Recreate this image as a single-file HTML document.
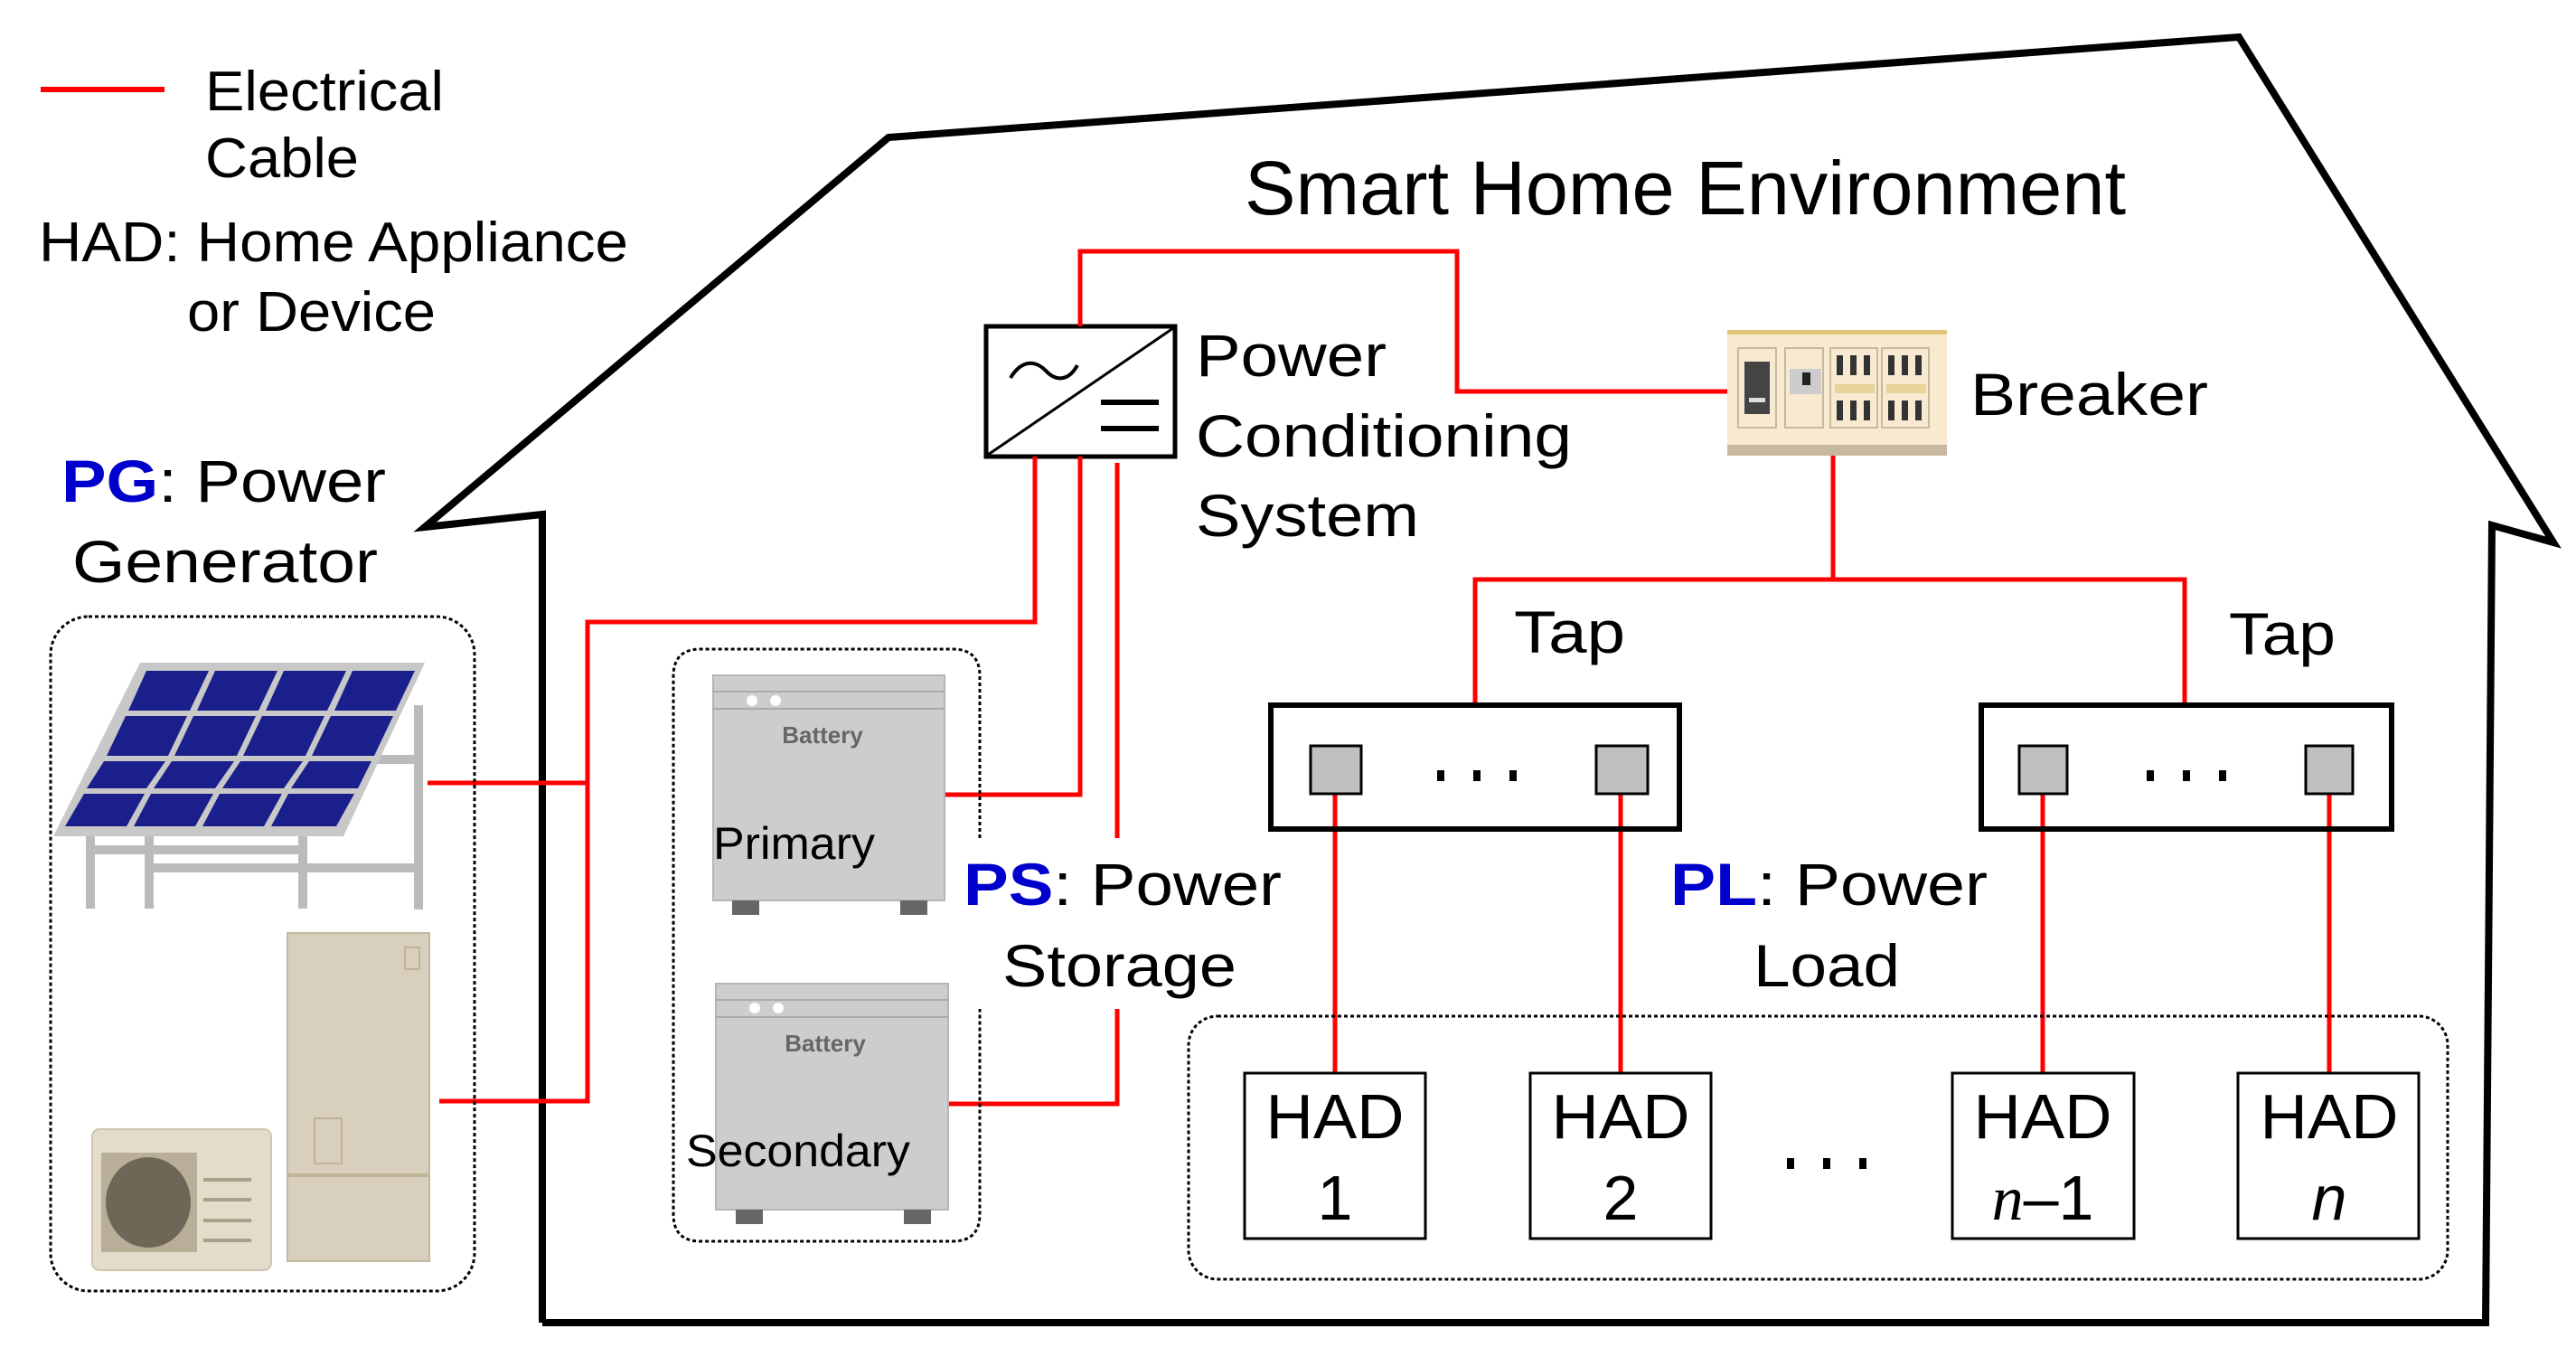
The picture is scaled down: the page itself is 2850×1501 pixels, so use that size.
<!DOCTYPE html>
<html><head><meta charset="utf-8"><style>
html,body{margin:0;padding:0;background:#fff}
svg{display:block}
text{font-family:"Liberation Sans",Arial,sans-serif;fill:#000}
</style></head><body>
<svg width="2850" height="1501" viewBox="0 0 2850 1501" xmlns="http://www.w3.org/2000/svg">
<!-- legend -->
<line x1="45" y1="99" x2="182" y2="99" stroke="#f00" stroke-width="6"/>
<text x="227" y="122" font-size="62" textLength="264" lengthAdjust="spacingAndGlyphs">Electrical</text>
<text x="227" y="196" font-size="62" textLength="170" lengthAdjust="spacingAndGlyphs">Cable</text>
<text x="43" y="289" font-size="62" textLength="652" lengthAdjust="spacingAndGlyphs">HAD: Home Appliance</text>
<text x="207" y="366" font-size="62" textLength="275" lengthAdjust="spacingAndGlyphs">or Device</text>
<text x="68" y="555" font-size="66" textLength="359" lengthAdjust="spacingAndGlyphs"><tspan font-weight="bold" fill="#0000cc">PG</tspan>: Power</text>
<text x="80" y="644" font-size="66" textLength="338" lengthAdjust="spacingAndGlyphs">Generator</text>

<!-- house -->
<polyline points="600,1463 600,569 470,583 983,152 2477,41 2825,600 2757,581 2750,1463 600,1463" fill="none" stroke="#000" stroke-width="8" stroke-linejoin="miter"/>
<text x="1377" y="237" font-size="84" textLength="975" lengthAdjust="spacingAndGlyphs">Smart Home Environment</text>

<!-- PCS -->
<rect x="1091" y="361" width="209" height="144" fill="#fff" stroke="#000" stroke-width="5"/>
<line x1="1093" y1="503" x2="1298" y2="363" stroke="#000" stroke-width="3"/>
<path d="M1118,418 C1130,398 1145,398 1157,410 C1168,422 1182,422 1192,404" fill="none" stroke="#000" stroke-width="4"/>
<line x1="1218" y1="445" x2="1282" y2="445" stroke="#000" stroke-width="6"/>
<line x1="1218" y1="474" x2="1282" y2="474" stroke="#000" stroke-width="6"/>
<text x="1323" y="416" font-size="66" textLength="211" lengthAdjust="spacingAndGlyphs">Power</text>
<text x="1323" y="505" font-size="66" textLength="416" lengthAdjust="spacingAndGlyphs">Conditioning</text>
<text x="1323" y="593" font-size="66" textLength="247" lengthAdjust="spacingAndGlyphs">System</text>

<!-- red cables -->
<g fill="none" stroke="#f00" stroke-width="5">
<polyline points="1195,361 1195,278 1612,278 1612,433 1911,433"/>
<polyline points="2028,504 2028,641"/>
<polyline points="1632,780 1632,641 2417,641 2417,780"/>
<polyline points="1145,505 1145,688 650,688 650,1218 486,1218"/>
<polyline points="473,866 650,866"/>
<polyline points="1195,505 1195,879 1045,879"/>
<polyline points="1236,512 1236,927"/>
<polyline points="1236,1116 1236,1221 1050,1221"/>
<line x1="1477" y1="878" x2="1477" y2="1187"/>
<line x1="1793" y1="878" x2="1793" y2="1187"/>
<line x1="2260" y1="878" x2="2260" y2="1187"/>
<line x1="2577" y1="878" x2="2577" y2="1187"/>
</g>

<!-- breaker -->
<g>
<rect x="1911" y="365" width="243" height="139" fill="#f8ead0"/>
<rect x="1911" y="365" width="243" height="5" fill="#e2c47a"/>
<rect x="1911" y="492" width="243" height="12" fill="#c8b8a0"/>
<rect x="1923" y="385" width="42" height="88" fill="none" stroke="#c9b89c" stroke-width="2"/>
<rect x="1930" y="400" width="28" height="58" fill="#444"/>
<rect x="1935" y="440" width="18" height="5" fill="#ddd"/>
<rect x="1975" y="385" width="42" height="88" fill="none" stroke="#c9b89c" stroke-width="2"/>
<rect x="1980" y="408" width="35" height="28" fill="#ccc"/>
<rect x="1994" y="412" width="9" height="14" fill="#222"/>
<rect x="2025" y="385" width="52" height="88" fill="none" stroke="#c9b89c" stroke-width="2"/>
<rect x="2082" y="385" width="52" height="88" fill="none" stroke="#c9b89c" stroke-width="2"/>
<rect x="2030" y="425" width="44" height="10" fill="#e8d49a"/>
<rect x="2087" y="425" width="44" height="10" fill="#e8d49a"/>
<g fill="#333">
<rect x="2032" y="393" width="7" height="22"/><rect x="2047" y="393" width="7" height="22"/><rect x="2062" y="393" width="7" height="22"/>
<rect x="2032" y="443" width="7" height="22"/><rect x="2047" y="443" width="7" height="22"/><rect x="2062" y="443" width="7" height="22"/>
<rect x="2089" y="393" width="7" height="22"/><rect x="2104" y="393" width="7" height="22"/><rect x="2119" y="393" width="7" height="22"/>
<rect x="2089" y="443" width="7" height="22"/><rect x="2104" y="443" width="7" height="22"/><rect x="2119" y="443" width="7" height="22"/>
</g>
</g>
<text x="2180" y="459" font-size="66" textLength="263" lengthAdjust="spacingAndGlyphs">Breaker</text>

<!-- taps -->
<text x="1675" y="722" font-size="66" textLength="123" lengthAdjust="spacingAndGlyphs">Tap</text>
<text x="2466" y="724" font-size="66" textLength="118" lengthAdjust="spacingAndGlyphs">Tap</text>
<rect x="1406" y="780" width="452" height="137" fill="none" stroke="#000" stroke-width="6"/>
<rect x="2192" y="780" width="454" height="137" fill="none" stroke="#000" stroke-width="6"/>
<g fill="#c0c0c0" stroke="#000" stroke-width="3">
<rect x="1450" y="825" width="56" height="53"/>
<rect x="1766" y="825" width="57" height="53"/>
<rect x="2234" y="825" width="53" height="53"/>
<rect x="2551" y="825" width="52" height="53"/>
</g>
<g fill="#000">
<rect x="1590" y="852" width="8" height="12"/><rect x="1630" y="852" width="8" height="12"/><rect x="1670" y="852" width="8" height="12"/>
<rect x="2375" y="852" width="8" height="12"/><rect x="2415" y="852" width="8" height="12"/><rect x="2455" y="852" width="8" height="12"/>
<rect x="1977" y="1281" width="8" height="12"/><rect x="2017" y="1281" width="8" height="12"/><rect x="2057" y="1281" width="8" height="12"/>
</g>

<!-- PL -->
<text x="1848" y="1001" font-size="66" textLength="351" lengthAdjust="spacingAndGlyphs"><tspan font-weight="bold" fill="#0000cc">PL</tspan>: Power</text>
<text x="1940" y="1091" font-size="66" textLength="162" lengthAdjust="spacingAndGlyphs">Load</text>
<rect x="1315" y="1124" width="1393" height="291" rx="32" fill="none" stroke="#000" stroke-width="3" stroke-dasharray="4,3"/>
<g fill="#fff" stroke="#000" stroke-width="3">
<rect x="1377" y="1187" width="200" height="183"/>
<rect x="1693" y="1187" width="200" height="183"/>
<rect x="2160" y="1187" width="201" height="183"/>
<rect x="2476" y="1187" width="200" height="183"/>
</g>
<g font-size="70" text-anchor="middle">
<text x="1477" y="1259" textLength="153" lengthAdjust="spacingAndGlyphs">HAD</text>
<text x="1793" y="1259" textLength="153" lengthAdjust="spacingAndGlyphs">HAD</text>
<text x="2260" y="1259" textLength="153" lengthAdjust="spacingAndGlyphs">HAD</text>
<text x="2577" y="1259" textLength="153" lengthAdjust="spacingAndGlyphs">HAD</text>
<text x="1477" y="1349">1</text>
<text x="1793" y="1349">2</text>
<text x="2260" y="1349"><tspan font-family="Liberation Serif" font-style="italic">n</tspan>–1</text>
<text x="2577" y="1349" font-family="Liberation Serif" font-style="italic">n</text>
</g>

<!-- PS -->
<path d="M1084,927 L1084,748 Q1084,718 1054,718 L775,718 Q745,718 745,748 L745,1343 Q745,1373 775,1373 L1054,1373 Q1084,1373 1084,1343 L1084,1116" fill="none" stroke="#000" stroke-width="3" stroke-dasharray="4,3"/>
<g>
<rect x="789" y="747" width="256" height="249" fill="#cdcdcd" stroke="#b5b5b5" stroke-width="2"/>
<line x1="789" y1="765" x2="1045" y2="765" stroke="#aaa" stroke-width="2"/>
<line x1="789" y1="784" x2="1045" y2="784" stroke="#aaa" stroke-width="2"/>
<circle cx="832" cy="775" r="6" fill="#fff"/><circle cx="858" cy="775" r="6" fill="#fff"/>
<rect x="810" y="996" width="30" height="16" fill="#666"/><rect x="996" y="996" width="30" height="16" fill="#666"/>
<text x="910" y="822" font-size="26" font-weight="bold" fill="#666" style="fill:#666" text-anchor="middle">Battery</text>
<rect x="792" y="1088" width="257" height="250" fill="#cdcdcd" stroke="#b5b5b5" stroke-width="2"/>
<line x1="792" y1="1106" x2="1049" y2="1106" stroke="#aaa" stroke-width="2"/>
<line x1="792" y1="1125" x2="1049" y2="1125" stroke="#aaa" stroke-width="2"/>
<circle cx="835" cy="1115" r="6" fill="#fff"/><circle cx="861" cy="1115" r="6" fill="#fff"/>
<rect x="814" y="1338" width="30" height="16" fill="#666"/><rect x="1000" y="1338" width="30" height="16" fill="#666"/>
<text x="913" y="1163" font-size="26" font-weight="bold" style="fill:#666" text-anchor="middle">Battery</text>
</g>
<text x="789" y="950" font-size="50" textLength="179" lengthAdjust="spacingAndGlyphs">Primary</text>
<text x="759" y="1290" font-size="50" textLength="248" lengthAdjust="spacingAndGlyphs">Secondary</text>
<text x="1066" y="1001" font-size="66" textLength="352" lengthAdjust="spacingAndGlyphs"><tspan font-weight="bold" fill="#0000cc">PS</tspan>: Power</text>
<text x="1109" y="1091" font-size="66" textLength="259" lengthAdjust="spacingAndGlyphs">Storage</text>

<!-- PG box -->
<rect x="56" y="682" width="469" height="746" rx="42" fill="none" stroke="#000" stroke-width="3" stroke-dasharray="4,3"/>
<!-- solar -->
<g>
<rect x="95" y="925" width="10" height="80" fill="#bbb"/>
<rect x="160" y="925" width="10" height="80" fill="#bbb"/>
<rect x="330" y="925" width="10" height="80" fill="#bbb"/>
<rect x="458" y="780" width="10" height="226" fill="#bbb"/>
<rect x="100" y="935" width="240" height="10" fill="#bbb"/>
<rect x="165" y="955" width="300" height="10" fill="#bbb"/>
<rect x="405" y="835" width="60" height="10" fill="#bbb"/>
<polygon points="155,733 470,733 380,925 59,925" fill="#c8c8c8"/>
<polygon points="158,737 464,737 375,918 66,918" fill="#c8c8c8"/>
<g fill="#1a1f8c">
<polygon points="162,742 231,742 210,786 142,786"/>
<polygon points="238,742 307,742 286,786 218,786"/>
<polygon points="314,742 383,742 362,786 294,786"/>
<polygon points="390,742 459,742 438,786 370,786"/>
<polygon points="139,792 207,792 186,836 118,836"/>
<polygon points="214,792 283,792 262,836 193,836"/>
<polygon points="290,792 359,792 338,836 269,836"/>
<polygon points="366,792 435,792 414,836 345,836"/>
<polygon points="115,842 183,842 162,872 96,872"/>
<polygon points="190,842 259,842 238,872 170,872"/>
<polygon points="266,842 335,842 314,872 246,872"/>
<polygon points="342,842 411,842 396,872 322,872"/>
<polygon points="93,878 160,878 140,914 72,914"/>
<polygon points="167,878 236,878 216,914 148,914"/>
<polygon points="243,878 312,878 292,914 224,914"/>
<polygon points="319,878 392,878 372,914 300,914"/>
</g>
</g>
<!-- heat pump -->
<rect x="318" y="1032" width="157" height="363" fill="#d8cfbd" stroke="#c4b89f" stroke-width="2"/>
<line x1="318" y1="1300" x2="475" y2="1300" stroke="#bfb398" stroke-width="4"/>
<rect x="348" y="1237" width="30" height="50" fill="none" stroke="#bfb398" stroke-width="2"/>
<rect x="448" y="1048" width="16" height="24" fill="none" stroke="#bfb398" stroke-width="2"/>
<rect x="102" y="1249" width="198" height="156" rx="8" fill="#e3dccb" stroke="#cfc6b0" stroke-width="2"/>
<rect x="112" y="1275" width="106" height="110" fill="#b9ae98"/>
<ellipse cx="164" cy="1330" rx="47" ry="50" fill="#6e6757"/>
<g stroke="#aaa08a" stroke-width="4"><line x1="225" y1="1305" x2="278" y2="1305"/><line x1="225" y1="1327" x2="278" y2="1327"/><line x1="225" y1="1350" x2="278" y2="1350"/><line x1="225" y1="1372" x2="278" y2="1372"/></g>
</svg>
</body></html>
